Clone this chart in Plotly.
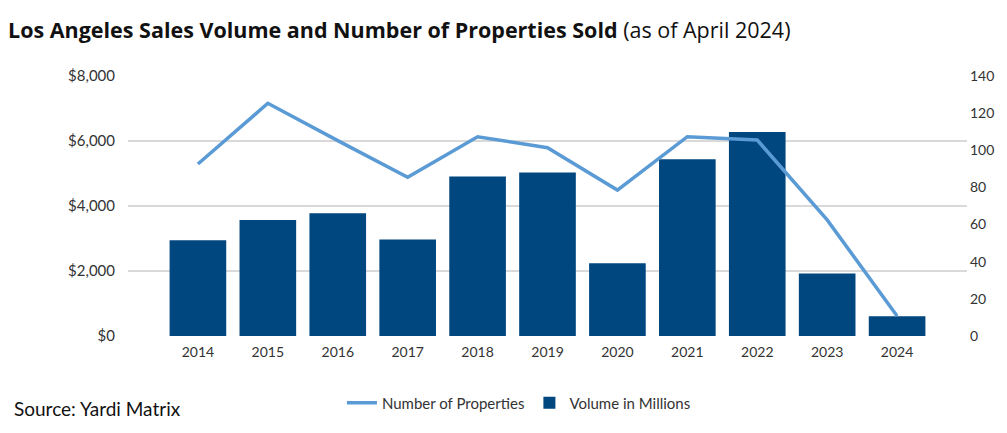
import plotly.graph_objects as go
from plotly.subplots import make_subplots

years = ["2014", "2015", "2016", "2017", "2018", "2019", "2020", "2021", "2022", "2023", "2024"]
volume_millions = [2950, 3570, 3780, 2970, 4910, 5030, 2240, 5440, 6280, 1920, 610]
num_properties = [92.6, 125.3, 105.2, 85.5, 107.3, 101.4, 78.6, 107.3, 105.5, 62.5, 10.8]
left_ticks = [0, 2000, 4000, 6000, 8000]
left_tick_labels = ["$0", "$2,000", "$4,000", "$6,000", "$8,000"]
right_ticks = [0, 20, 40, 60, 80, 100, 120, 140]

BAR = "#00467f"
LINE = "#5b9bd5"
FONT = "Lato"

fig = make_subplots(specs=[[{"secondary_y": True}]])
fig.add_trace(go.Bar(x=years, y=volume_millions, name="Volume in Millions",
                     marker=dict(color=BAR, line=dict(width=0)), legendrank=2),
              secondary_y=False)
fig.add_trace(go.Scatter(x=years, y=num_properties, name="Number of Properties",
                         mode="lines", line=dict(color=LINE, width=3.5), legendrank=1),
              secondary_y=True)

fig.update_layout(
    width=1007, height=433,
    margin=dict(l=128, r=40, t=76, b=97, autoexpand=False),
    paper_bgcolor="white", plot_bgcolor="white",
    bargap=0.19,
    font=dict(family=FONT, color="#333333", size=14),
    title=dict(text="<b>Los Angeles Sales Volume and Number of Properties Sold</b> (as of April 2024)",
               x=8/1007, xanchor="left", y=1-30/433, yanchor="middle",
               font=dict(family="Open Sans", size=21.5, color="#111111")),
    legend=dict(orientation="h", x=0.255, xanchor="left", y=-(403-336)/260, yanchor="middle",
                font=dict(family=FONT, size=15, color="#333333"), traceorder="normal",
                itemwidth=30),
    showlegend=True,
)
fig.update_xaxes(type="category", range=[-1, 11], domain=[0, 1], showgrid=False, zeroline=False,
                 showline=False, ticks="", tickfont=dict(size=14, color="#333333"),
                 ticklabelstandoff=6, automargin=False)
fig.update_yaxes(range=[0, 8000], tickvals=left_ticks, ticktext=left_tick_labels,
                 showgrid=True, gridcolor="#d9d9d9", gridwidth=1.5, zeroline=False,
                 showline=False, tickfont=dict(size=15, color="#333333"),
                 ticklabelstandoff=12, automargin=False, secondary_y=False)
fig.update_yaxes(range=[0, 140], tickvals=right_ticks, showgrid=False, zeroline=False,
                 showline=False, tickfont=dict(size=14, color="#333333"),
                 ticklabelstandoff=2, automargin=False, secondary_y=True)

fig.add_annotation(text="Source: Yardi Matrix", xref="paper", yref="paper",
                   x=-116/839, xanchor="left", y=-(408-336)/260, yanchor="middle",
                   showarrow=False, font=dict(family=FONT, size=19, color="#111111"))

fig.write_html("out.html")
